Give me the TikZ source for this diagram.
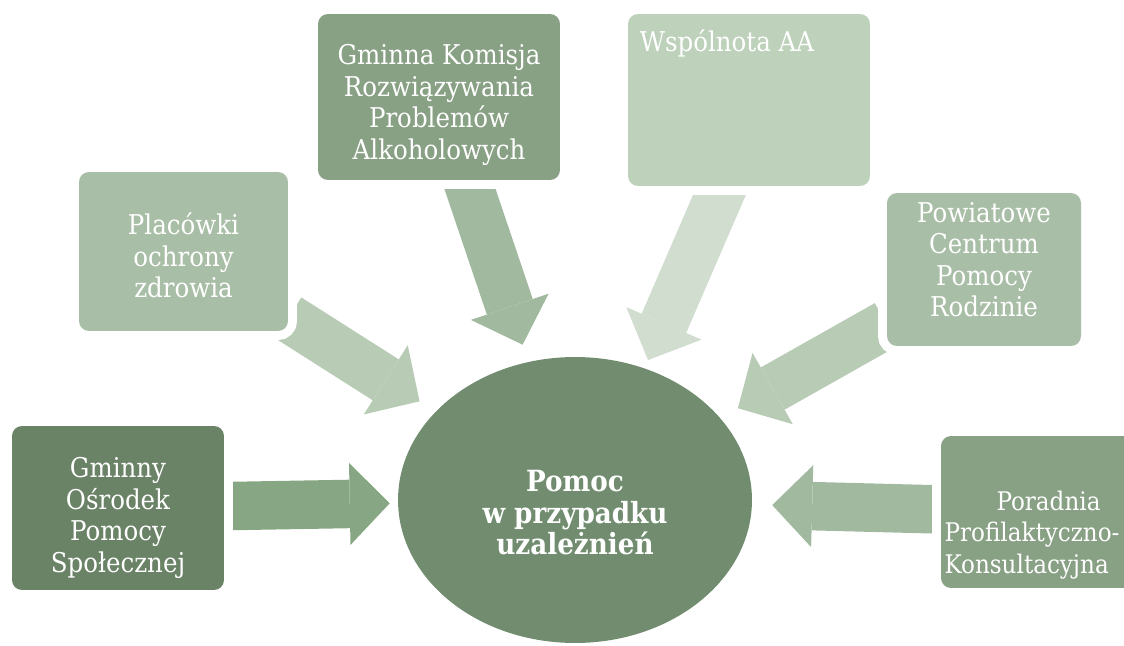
\documentclass[tikz,border=0pt]{standalone}
\usepackage{fontspec}
\setmainfont{DejaVu Serif Condensed}
\usetikzlibrary{arrows.meta, shapes.geometric, backgrounds}

\definecolor{darkbox}{HTML}{6A8266}
\definecolor{midbox}{HTML}{88A084}
\definecolor{lightbox}{HTML}{A9BEA6}
\definecolor{palebox}{HTML}{BDD1BB}
\definecolor{hubfill}{HTML}{718C6E}
\definecolor{darkarrow}{HTML}{87A683}
\definecolor{midarrow}{HTML}{A1BA9F}
\definecolor{lightarrow}{HTML}{B8CBB5}
\definecolor{palearrow}{HTML}{D0DDCF}

\begin{document}
\begin{tikzpicture}[x=0.02cm, y=-0.02cm,
		txt/.style={text=white, align=center, font=\fontsize{15.5}{17.9}\selectfont},
		box/.style={rectangle, rounded corners=0.2cm, preaction={draw=white, line width=0.36cm}},
		hub/.style={ellipse, fill=hubfill, inner sep=0pt, minimum width=7.08cm, minimum height=5.72cm},
		arr/.style={line width=0.97cm, -{Triangle[length=0.8cm, width=1.64cm, line width=0pt]}}]
		
		\useasboundingbox (0,0) rectangle (1124,645);
		
		% Centrum
		\node[hub, label={[txt, font=\bfseries\fontsize{16.6}{17.9}\selectfont, yshift=-0.26cm]center:Pomoc\\w przypadku\\uzależnień}] (hub) at (575,500) {};
		
		% Instytucje
		\node[box, fill=darkbox, minimum width=4.24cm, minimum height=3.28cm,
			label={[txt, yshift=-0.2cm]center:Gminny\\Ośrodek\\Pomocy\\Społecznej}] (gops) at (118,508) {};
		\node[box, fill=lightbox, minimum width=4.18cm, minimum height=3.18cm,
			label={[txt, yshift=-0.08cm]center:Placówki\\ochrony\\zdrowia}] (plac) at (183.5,251.5) {};
		\node[box, fill=midbox, minimum width=4.84cm, minimum height=3.32cm,
			label={[txt, yshift=-0.16cm]center:Gminna Komisja\\Rozwiązywania\\Problemów\\Alkoholowych}] (gkrpa) at (439,97) {};
		\node[box, fill=palebox, minimum width=4.84cm, minimum height=3.44cm,
			label={[txt, anchor=north west, xshift=0.12cm, yshift=-0.2cm]north west:Wspólnota AA}] (wsp) at (749,100) {};
		\node[box, fill=lightbox, minimum width=3.88cm, minimum height=3.06cm,
			label={[txt, yshift=0.2cm]center:Powiatowe\\Centrum\\Pomocy\\Rodzinie}] (pcpr) at (984,269.5) {};
		\node[box, fill=midbox, minimum width=3.88cm, minimum height=3.04cm,
			label={[txt, align=left, font=\fontsize{14.6}{17.9}\selectfont, xshift=-0.12cm, yshift=-0.46cm]center:\hspace*{1.04cm}Poradnia\\Profilaktyczno-\\Konsultacyjna}] (ppk) at (1038,512) {};
		
		% Strzałki (pod ramkami)
		\begin{scope}[on background layer]
			\draw[arr, darkarrow, shorten >=0.16cm] (gops) -- (hub);
			\draw[arr, lightarrow, shorten >=0.38cm] (plac) -- (hub);
			\draw[arr, midarrow, shorten >=0.36cm] (gkrpa) -- (hub);
			\draw[arr, palearrow, shorten >=3.05cm] ([xshift=0.23cm]wsp.center) -- ([xshift=0.25cm]hub.center);
			\draw[arr, lightarrow, shorten >=0.4cm] (pcpr) -- (hub);
			\draw[arr, midarrow, shorten >=0.4cm] (ppk) -- (hub);
		\end{scope}
	\end{tikzpicture}
\end{document}
